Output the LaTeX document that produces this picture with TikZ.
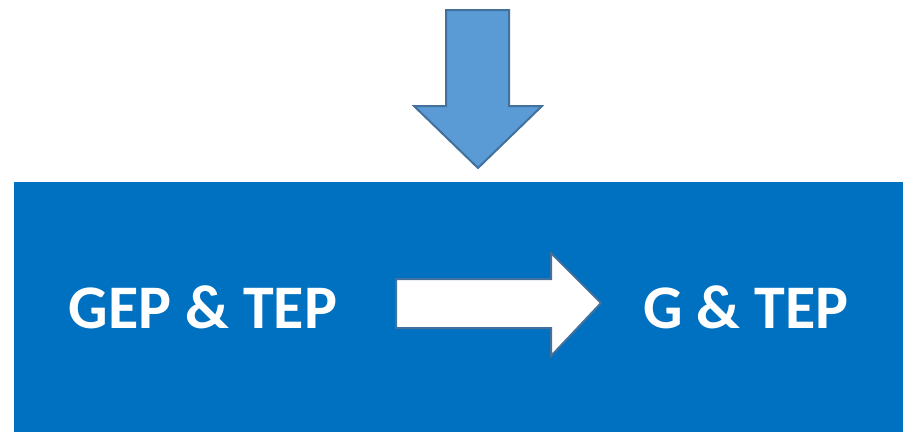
\documentclass[tikz,border=0pt]{standalone}
\usepackage{fontspec}
\setmainfont{Carlito}
\definecolor{panelblue}{HTML}{0070C0}
\definecolor{arrowfill}{HTML}{5B9BD5}
\definecolor{arrowline}{HTML}{41719C}
\tikzset{
  px/.style={x=1pt,y=-1pt},
  label/.style={text=white,font=\fontsize{62}{74}\selectfont\bfseries,inner sep=0pt,anchor=base},
  outline/.style={draw=arrowline,line width=2pt,line join=miter}
}
\begin{document}
\begin{tikzpicture}[px]
  \useasboundingbox (0,0) rectangle (903,432);
  % blue panel
  \fill[panelblue] (14,182) rectangle (903,432);
  % downward block arrow
  \draw[outline,fill=arrowfill] (446,10) -- (509,10) -- (509,106) -- (542,106) -- (478,168)
    -- (414,106) -- (446,106) -- cycle;
  % right block arrow inside the panel
  \draw[outline,fill=white] (396,279) -- (551,279) -- (551,253) -- (601,303) -- (551,356)
    -- (551,328) -- (396,328) -- cycle;
  % labels
  \node[label] (left) at (203,328) {GEP \& TEP};
  \node[label] (right) at (746,328) {G \& TEP};
\end{tikzpicture}
\end{document}
